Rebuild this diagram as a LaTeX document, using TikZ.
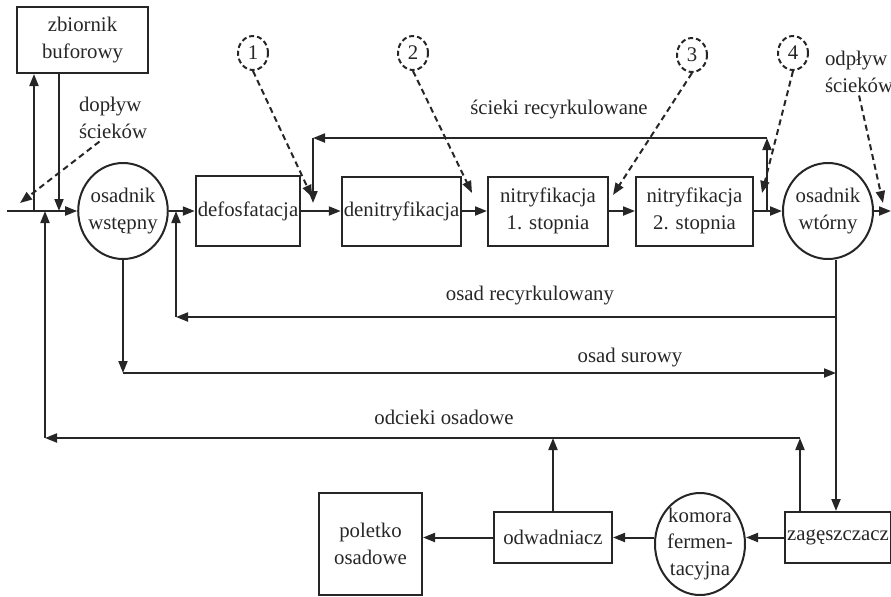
\documentclass[tikz,border=0pt]{standalone}
\usepackage{fontspec}
\setmainfont{Liberation Serif}
\usetikzlibrary{arrows.meta,shapes.geometric}

\begin{document}
\begin{tikzpicture}[x=0.5pt, y=-0.5pt, line width=1pt, black!85,
  font=\fontsize{10.4}{13.2}\selectfont,
  >={Triangle[length=6pt,width=4.5pt]},
  box/.style={draw, rectangle, align=center, inner sep=1pt},
  tank/.style={draw, ellipse, align=center, inner sep=-1.5pt},
  numring/.style={draw, ellipse, dash pattern=on 2.5pt off 1.5pt, minimum width=15pt, minimum height=17pt, inner sep=0pt},
  lbl/.style={align=left, inner sep=1pt},
  feed/.style={->, dash pattern=on 3pt off 2pt}]

  \useasboundingbox (0,0) rectangle (891,596);

  \node[box, minimum width=65.5pt, minimum height=33pt] (buf) at (82.5,40) {zbiornik\\buforowy};
  \node[tank, minimum width=44pt, minimum height=48pt] (wst) at (123,211) {osadnik\\wstępny};
  \node[box, minimum width=52pt, minimum height=35pt] (defo) at (248,211) {defosfatacja};
  \node[box, minimum width=58.5pt, minimum height=34.5pt] (deni) at (401.5,211) {denitryfikacja};
  \node[box, minimum width=60pt, minimum height=34.5pt] (nit1) at (548,211) {nitryfikacja\\1. stopnia};
  \node[box, minimum width=58.5pt, minimum height=34.5pt] (nit2) at (694.5,211) {nitryfikacja\\2. stopnia};
  \node[tank, minimum width=45pt, minimum height=48pt] (wto) at (828,211) {osadnik\\wtórny};

  \node[box, minimum width=51pt, minimum height=25.5pt] (zag) at (838,537.5) {zagęszczacz};
  \node[tank, minimum width=45pt, minimum height=51pt] (kom) at (700,544) {komora\\fermen-\\tacyjna};
  \node[box, minimum width=59pt, minimum height=25.5pt] (odw) at (553,537.5) {odwadniacz};
  \node[box, minimum width=51.5pt, minimum height=51pt] (pol) at (370.5,544) {poletko\\osadowe};

  \node[numring] (n1) at (253,53) {1};
  \node[numring] (n2) at (413,53) {2};
  \node[numring] (n3) at (692,55) {3};
  \node[numring] (n4) at (793,53) {4};

  \node[lbl, anchor=west] (dop) at (76,118) {dopływ\\ścieków};
  \node[lbl, anchor=west] (odp) at (822,72) {odpływ\\ścieków};
  \node[lbl] (scr) at (559,110) {ścieki recyrkulowane};
  \node[lbl] (osr) at (530,296) {osad recyrkulowany};
  \node[lbl] (osu) at (630,358) {osad surowy};
  \node[lbl] (odc) at (444,417) {odcieki osadowe};

  \coordinate (in) at (7,211);
  \coordinate (jup) at (34,211);
  \coordinate (jdn) at (59,211);
  \coordinate (out) at (891,211);
  \coordinate (rup) at (767,211);
  \coordinate (rtop) at (767,138);
  \coordinate (rleft) at (313,138);
  \coordinate (rin) at (313,203);
  \coordinate (osrR) at (836,317);
  \coordinate (osrL) at (176,317);
  \coordinate (osuR) at (836,373);
  \coordinate (osuL) at (wst.south |- osuR);
  \coordinate (odcR) at (800,438);
  \coordinate (odcL) at (45,438);

  \coordinate (t1) at (312,197);
  \coordinate (t2) at (472,193);
  \coordinate (t3) at (613,195);
  \coordinate (t4) at (762,193);
  \coordinate (tdop) at (20,203);
  \coordinate (todp) at (883,203);

  % main line
  \draw[->] (in) -- (wst.west);
  \draw[->] (jup) -- (jup |- buf.south);
  \draw[->] (jdn |- buf.south) -- (jdn);
  \draw[->] (wst) -- (defo);
  \draw[->] (defo) -- (deni);
  \draw[->] (deni) -- (nit1);
  \draw[->] (nit1) -- (nit2);
  \draw[->] (nit2) -- (wto);
  \draw[->] (wto) -- (out);

  % recirculation
  \draw[->] (rup) -- (rtop);
  \draw[->] (rtop) -- (rleft);
  \draw[->] (rleft) -- (rin);

  \draw[->] (wto.south -| osrR) -- (zag.north -| osrR);
  \draw[->] (osrR) -- (osrL);
  \draw[->] (osrL) -- (osrL |- wst.east);

  \draw[->] (wst.south) -- (osuL);
  \draw[->] (osuL) -- (osuR);

  \draw[->] (zag.north -| odcR) -- (odcR);
  \draw[->] (odw.north) -- (odw.north |- odcR);
  \draw[->] (odcR) -- (odcL);
  \draw[->] (odcL) -- (odcL |- in);

  % sludge line
  \draw[->] (zag.west) -- (zag.west -| kom.east);
  \draw[->] (odw.east -| kom.west) -- (odw.east);
  \draw[->] (odw.west) -- (odw.west -| pol.east);

  \draw[feed] (n1.south) -- (t1);
  \draw[feed] (n2.south) -- (t2);
  \draw[feed] (n3.south) -- (t3);
  \draw[feed] (n4.south) -- (t4);
  \draw[feed] (dop.240) -- (tdop);
  \draw[feed] (odp.south) -- (todp);
\end{tikzpicture}
\end{document}
